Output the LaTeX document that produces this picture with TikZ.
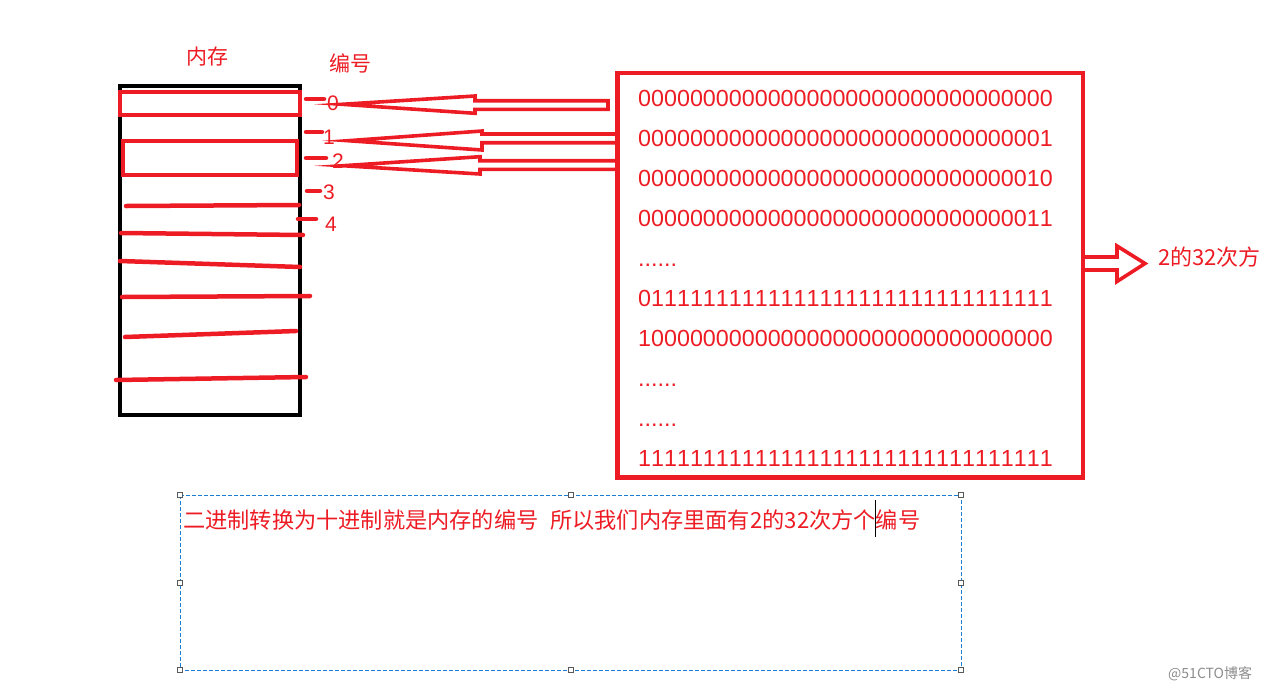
\documentclass[tikz,border=0pt]{standalone}
\usepackage{fontspec}
\setmainfont{Liberation Sans}[Kerning=Off]
\newfontfamily\cjk{Noto Sans CJK SC}
\definecolor{pred}{HTML}{ED1C24}
\definecolor{selblue}{HTML}{1A7FD4}
\definecolor{wmgray}{HTML}{8C8C8C}
\begin{document}
\begin{tikzpicture}[x=1pt,y=-1pt,
  redstroke/.style={draw=pred, line width=4.5pt, line cap=round},
  redbox/.style={draw=pred, line width=4.5pt},
  hollow/.style={draw=pred, line width=3.6pt, line join=miter, miter limit=20},
  handle/.style={draw=gray!70!black, fill=white, line width=0.7pt, minimum size=5pt, inner sep=0pt},
  bin/.style={anchor=base west, inner sep=0pt, text=pred, font=\fontsize{23.3}{28}\selectfont},
  num/.style={anchor=base, inner sep=0pt, text=pred, font=\fontsize{21}{25}\selectfont},
  cjklabel/.style={inner sep=0pt, text=pred, font=\cjk\fontsize{21}{25}\selectfont}]
\useasboundingbox (0,0) rectangle (1276,694);

% labels
\node[cjklabel, anchor=base west] (memlbl) at (186,64.5) {内存};
\node[cjklabel, anchor=base west] (numlbl) at (329,71.5) {编号};

% memory box
\draw[line width=4.6pt] (120,86) rectangle (300,415);
\draw[redbox] (120,92) rectangle (300,115);
\draw[redbox] (123,141) rectangle (297,175);

% hand-drawn separator lines
\draw[redstroke] (126,206) -- (299,205);
\draw[redstroke] (121,233) -- (303,235);
\draw[redstroke] (120,261) -- (300,267);
\draw[redstroke] (122,297) -- (310,296);
\draw[redstroke] (125,337) -- (296,331);
\draw[redstroke] (116,380) -- (306,377);

% numbering ticks
\draw[redstroke] (306,99) -- (324,99);
\draw[redstroke] (306,132) -- (322,132);
\draw[redstroke] (306,158) -- (326,158);
\draw[redstroke] (307,191) -- (320,191);
\draw[redstroke] (298,219) -- (316,219);

% numbers
\node[num] (n0) at (333,110) {0};
\node[num] (n1) at (329,144) {1};
\node[num] (n2) at (338,168) {2};
\node[num] (n3) at (329,199) {3};
\node[num] (n4) at (331,231) {4};

% right box with binary numbers
\draw[line width=4.8pt, draw=pred] (617.5,73) rectangle (1083,477.5);
\node[bin] (b0) at (638,106.5) {00000000000000000000000000000000};
\node[bin] (b1) at (638,146.5) {00000000000000000000000000000001};
\node[bin] (b2) at (638,186.5) {00000000000000000000000000000010};
\node[bin] (b3) at (638,226.5) {00000000000000000000000000000011};
\node[bin] (b4) at (638,266.5) {......};
\node[bin] (b5) at (638,306.5) {01111111111111111111111111111111};
\node[bin] (b6) at (638,346.5) {10000000000000000000000000000000};
\node[bin] (b7) at (638,386.5) {......};
\node[bin] (b8) at (638,426.5) {......};
\node[bin] (b9) at (638,466.5) {11111111111111111111111111111111};

% hollow arrows pointing to the numbers
\draw[hollow] (342,104.3) -- (475,96) -- (475,100.7) -- (608,100.7) -- (608,109.3)
  -- (475,109.3) -- (475,113.3) -- cycle;
\draw[hollow] (616,134) -- (482,134) -- (482,131) -- (348,140.7) -- (482,150)
  -- (482,142.7) -- (616,142.7);
\draw[hollow] (616,160.7) -- (480,160.7) -- (480,156.7) -- (343,165.7) -- (480,174)
  -- (480,169.3) -- (616,169.3);

% arrow to the right
\draw[hollow] (1085,257) -- (1117,257) -- (1117,246) -- (1145,263.5) -- (1117,281.5)
  -- (1117,270) -- (1085,270);
\node[cjklabel, anchor=base west, font=\cjk\fontsize{22}{26}\selectfont] (pow) at (1158,265.5) {2的32次方};

% selected text box
\draw[selblue, line width=1pt, dash pattern=on 4pt off 2pt] (180,495) rectangle (961,670);
\foreach \hx/\hy in {180/495,570.5/495,961/495,180/582.5,961/582.5,180/670,570.5/670,961/670}
  \node[handle] at (\hx,\hy) {};
\node[anchor=base west, inner sep=0pt, text=pred, font=\cjk\fontsize{22.2}{26}\selectfont] (note) at (183,528)
  {二进制转换为十进制就是内存的编号\hspace{12pt}所以我们内存里面有2的32次方个编号};
\draw[line width=1pt] (875,500) -- (875,537);

% watermark
\node[anchor=base west, inner sep=0pt, text=wmgray, font=\cjk\fontsize{14}{17}\selectfont] (wm) at (1168,678) {@51CTO博客};
\end{tikzpicture}
\end{document}
